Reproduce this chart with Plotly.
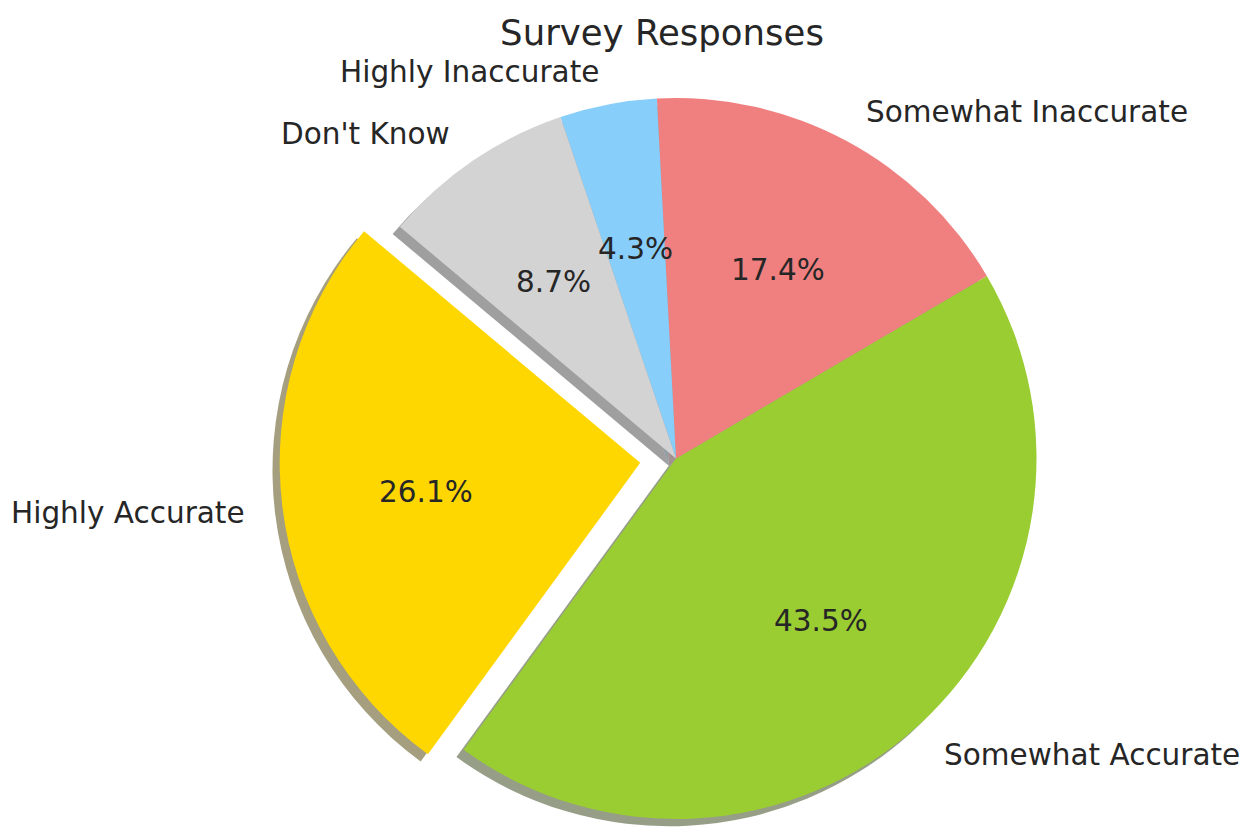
import math
import plotly.graph_objects as go

# Survey answers (counts) and their styling
labels = ["Highly Accurate", "Somewhat Accurate", "Somewhat Inaccurate",
          "Highly Inaccurate", "Don't Know"]
counts = [6, 10, 4, 1, 2]
colors = ["#FFD700", "#9ACD32", "#F08080", "#87CEFA", "#D3D3D3"]
explode = [0.1, 0, 0, 0, 0]
title = "Survey Responses"

W, H = 1251, 831
CX, CY, R = 676, 458.5, 360.5      # pie centre and radius in pixels
START = 140                        # first slice starts here (deg, ccw from 3 o'clock)
SHADOW = 0.02                      # drop-shadow offset as a fraction of the radius
LABEL_R, PCT_R = 1.1, 0.6          # label / percentage distance (fraction of radius)
TEXT_DROP = 2.5                    # nudge text down so glyphs sit centred on their anchor
FONT = "DejaVu Sans"
TEXT_COLOR = "#262626"

total = sum(counts)
spans = [c / total * 360 for c in counts]
# plotly measures rotation clockwise from 12 o'clock; with counterclockwise
# direction the first slice ends on the rotation angle
rotation = 90 - (START + spans[0])

mids = []
a = START
for s in spans:
    mids.append(a + s / 2)
    a += s

# centre of every slice after exploding it along its bisector
centres = []
for e, m in zip(explode, mids):
    t = math.radians(m)
    centres.append((CX + e * R * math.cos(t), CY - e * R * math.sin(t)))


def domain(cx, cy):
    return dict(x=[(cx - R) / W, (cx + R) / W],
                y=[(H - cy - R) / H, (H - cy + R) / H])


def rgb(h):
    h = h.lstrip("#")
    return [int(h[i:i + 2], 16) for i in (0, 2, 4)]


def shade(h):
    r, g, b = rgb(h)
    return f"rgba({0.3 * r:.0f},{0.3 * g:.0f},{0.3 * b:.0f},0.5)"


CLEAR = "rgba(0,0,0,0)"
groups = sorted(set(explode))


def pie(cx, cy, cols):
    return go.Pie(
        labels=labels, values=counts, sort=False, direction="counterclockwise",
        rotation=rotation, domain=domain(cx, cy), textinfo="none",
        hoverinfo="skip", showlegend=False,
        marker=dict(colors=cols, line=dict(width=0)),
    )


fig = go.Figure()
off = SHADOW * R
# shadows underneath everything
for g in groups:
    idx = [i for i, e in enumerate(explode) if e == g]
    cx, cy = centres[idx[0]]
    cols = [shade(colors[i]) if explode[i] == g else CLEAR for i in range(len(counts))]
    fig.add_trace(pie(cx - off, cy + off, cols))
# the slices themselves
for g in groups:
    idx = [i for i, e in enumerate(explode) if e == g]
    cx, cy = centres[idx[0]]
    cols = [colors[i] if explode[i] == g else CLEAR for i in range(len(counts))]
    fig.add_trace(pie(cx, cy, cols))

annotations = []
for lab, c, m, (cx, cy) in zip(labels, counts, mids, centres):
    t = math.radians(m)
    lx = cx + LABEL_R * R * math.cos(t)
    ly = cy - LABEL_R * R * math.sin(t) + TEXT_DROP
    annotations.append(dict(
        x=lx / W, y=1 - ly / H, xref="paper", yref="paper", text=lab,
        showarrow=False, xanchor="left" if math.cos(t) > 0 else "right",
        yanchor="middle", font=dict(family=FONT, size=29.5, color=TEXT_COLOR)))
    px = cx + PCT_R * R * math.cos(t)
    py = cy - PCT_R * R * math.sin(t) + TEXT_DROP
    annotations.append(dict(
        x=px / W, y=1 - py / H, xref="paper", yref="paper",
        text=f"{c / total * 100:.1f}%", showarrow=False,
        xanchor="center", yanchor="middle",
        font=dict(family=FONT, size=29.5, color=TEXT_COLOR)))

fig.update_layout(
    width=W, height=H, margin=dict(l=0, r=0, t=0, b=0),
    paper_bgcolor="white", plot_bgcolor="white",
    title=dict(text=title, x=662 / W, y=1 - 33 / H, xanchor="center",
               yanchor="middle", font=dict(family=FONT, size=35.5, color=TEXT_COLOR)),
    annotations=annotations,
)

fig.write_html("out.html")
